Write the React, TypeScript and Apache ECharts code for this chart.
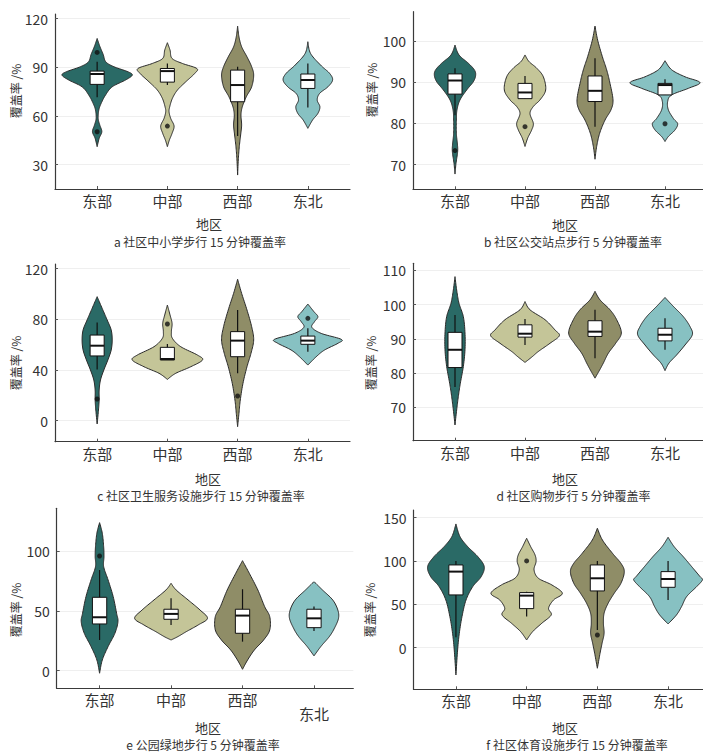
import React, { useEffect, useRef } from 'react';
import * as echarts from 'echarts';

const CATEGORIES = ['东部', '中部', '西部', '东北'];
const CAPTIONS = [
  'a 社区中小学步行 15 分钟覆盖率',
  'b 社区公交站点步行 5 分钟覆盖率',
  'c 社区卫生服务设施步行 15 分钟覆盖率',
  'd 社区购物步行 5 分钟覆盖率',
  'e 公园绿地步行 5 分钟覆盖率',
  'f 社区体育设施步行 15 分钟覆盖率',
];
const Y_NAME = '覆盖率 /%';
const X_NAME = '地区';
const COLORS = ['#2a6a66', '#c4c598', '#8f8d67', '#87c1c2'];

const TICKS_A = [30, 60, 90, 120];
const TICKS_B = [70, 80, 90, 100];
const TICKS_C = [0, 40, 80, 120];
const TICKS_D = [70, 80, 90, 100, 110];
const TICKS_E = [0, 50, 100];
const TICKS_F = [0, 50, 100, 150];

// violin profiles: [value, relative density] from top to bottom
const VIOLINS_A = [
  [[107.8, 0], [103, 8], [98, 18], [93.4, 26], [90.4, 50], [87.3, 92], [85.2, 105], [82.2, 85], [78.0, 45], [72.9, 25], [67.8, 12], [63.7, 5], [58.5, 3], [54.4, 8], [50.3, 14], [46.2, 6], [41.1, 0]],
  [[105.2, 0], [100.6, 8], [95.5, 14], [92.4, 45], [89.3, 88], [86.3, 82], [81.1, 55], [76, 30], [70.9, 15], [65.7, 7], [62.6, 5], [58.5, 10], [53.8, 20], [49.3, 14], [45.2, 6], [41.1, 0]],
  [[115.4, 0], [108.9, 4], [102.7, 12], [96.5, 28], [90.4, 42], [85.2, 48], [78.0, 42], [71.9, 26], [65.7, 14], [60.6, 10], [54.4, 12], [48.3, 9], [41.1, 5], [32.9, 2], [23.6, 0]],
  [[105.8, 0], [98.6, 8], [91.4, 38], [86.3, 65], [82.2, 74], [78.0, 60], [73.9, 35], [69.8, 28], [65.7, 36], [61.6, 30], [57.5, 14], [52.4, 0]],
];
const VIOLINS_B = [
  [[99.0, 0], [96.6, 12], [94.6, 40], [93.0, 58], [91.7, 62], [90.1, 55], [88.1, 35], [85.7, 15], [83.3, 6], [80.8, 4], [77.6, 4], [75.2, 7], [73.2, 8], [70.3, 3], [67.7, 0]],
  [[96.6, 0], [95.0, 12], [93.4, 35], [91.3, 55], [88.1, 62], [85.7, 45], [84.1, 25], [82.4, 15], [80.0, 25], [78.4, 20], [76.4, 8], [74.4, 0]],
  [[103.6, 0], [100.2, 8], [96.2, 22], [93.0, 35], [89.7, 45], [85.7, 54], [83.3, 48], [80.8, 30], [77.6, 14], [74.4, 5], [71.3, 0]],
  [[95.2, 0], [93.0, 20], [91.3, 60], [89.9, 105], [88.5, 70], [86.9, 20], [85.3, 8], [83.3, 10], [81.2, 25], [79.9, 38], [78.4, 30], [76.8, 10], [75.6, 0]],
];
const VIOLINS_C = [
  [[97.9, 0], [88.7, 15], [79.5, 30], [71.6, 42], [63.7, 45], [55.8, 42], [47.9, 32], [40, 20], [32.1, 10], [24.2, 6], [16.3, 6], [8.4, 4], [-2.6, 0]],
  [[91.3, 0], [83.4, 8], [76.8, 14], [70.3, 12], [65.0, 15], [58.4, 40], [51.8, 90], [47.9, 105], [42.6, 70], [37.4, 25], [32.6, 0]],
  [[111.6, 0], [100.5, 12], [87.4, 28], [74.2, 42], [63.7, 48], [53.2, 40], [42.6, 28], [29.5, 16], [16.3, 8], [5.8, 4], [-4.7, 0]],
  [[92.1, 0], [86.1, 18], [82.1, 30], [78.2, 20], [73.7, 12], [68.9, 40], [64.2, 100], [61.1, 90], [55.8, 50], [50.5, 25], [43.9, 0]],
];
const VIOLINS_D = [
  [[108.2, 0], [104.3, 5], [100.4, 12], [96.5, 25], [91.7, 30], [86.8, 30], [81.9, 25], [77.0, 16], [73.1, 10], [69.2, 5], [64.8, 0]],
  [[100.9, 0], [98.5, 15], [95.6, 60], [92.6, 90], [90.9, 103], [88.7, 75], [86.3, 40], [84.8, 22], [83.1, 0]],
  [[103.9, 0], [101.4, 15], [98.5, 45], [95.6, 65], [91.7, 79], [88.7, 62], [85.8, 40], [82.9, 25], [80.9, 14], [78.5, 0]],
  [[102.1, 0], [99.5, 25], [96.5, 55], [93.6, 75], [91.2, 82], [88.2, 60], [85.3, 35], [82.9, 12], [80.7, 0]],
];
const VIOLINS_E = [
  [[123.7, 0], [114.8, 8], [103.6, 12], [95.3, 13], [86.9, 12], [75.8, 25], [61.8, 40], [47.9, 50], [40.9, 54], [31.2, 45], [20.1, 25], [8.9, 8], [-2.2, 0]],
  [[73.0, 0], [67.4, 15], [59.1, 50], [50.7, 85], [43.7, 107], [38.2, 80], [32.6, 45], [28.4, 20], [25.6, 0]],
  [[91.9, 0], [81.3, 20], [67.4, 45], [53.5, 65], [45.1, 80], [34.0, 80], [25.6, 62], [17.3, 35], [8.9, 15], [1.1, 0]],
  [[74.4, 0], [67.4, 25], [59.1, 55], [50.7, 70], [43.7, 72], [35.4, 60], [28.4, 45], [20.1, 20], [12.3, 0]],
];
const VIOLINS_F = [
  [[142.7, 0], [128.1, 12], [116.5, 35], [105, 65], [93.5, 84], [81.9, 75], [70.4, 50], [55, 30], [35.8, 18], [16.5, 10], [-2.7, 5], [-31.5, 0]],
  [[126.2, 0], [116.5, 12], [106.9, 25], [99.2, 28], [89.6, 22], [80.0, 35], [72.3, 75], [62.7, 106], [55.0, 80], [45.4, 65], [37.7, 73], [28.1, 45], [18.5, 18], [8.8, 0]],
  [[137.7, 0], [124.2, 15], [108.8, 45], [97.3, 70], [87.7, 80], [74.2, 70], [62.7, 50], [51.2, 32], [39.6, 20], [28.1, 18], [16.5, 20], [5.0, 14], [-6.5, 8], [-23.8, 0]],
  [[127.3, 0], [116.5, 18], [105, 45], [93.5, 70], [81.9, 95], [78.1, 102], [70.4, 85], [58.8, 55], [47.3, 40], [37.7, 25], [27.3, 0]],
];

// box stats: [lower whisker, Q1, median, Q3, upper whisker]
const BOXES_A = [[71.5, 79.5, 85.9, 87.7, 93.4], [79.1, 80.9, 87.7, 89.3, 92.4], [47.7, 68.8, 79.1, 88.3, 90.4], [65.3, 77.0, 82.2, 85.9, 92.4]];
const BOXES_B = [[82.0, 87.1, 90.4, 92.0, 93.4], [86.0, 86.0, 87.5, 89.7, 91.5], [79.2, 85.3, 87.9, 91.5, 95.8], [86.9, 86.9, 89.3, 89.7, 90.7]];
const BOXES_C = [[40.5, 51.1, 59.2, 67.6, 77.6], [47.9, 47.9, 48.7, 57.9, 60.5], [37.4, 50.5, 63.2, 70.3, 87.4], [54.5, 60.3, 63.2, 66.8, 72.9]];
const BOXES_D = [[75.9, 81.6, 86.8, 91.9, 97.0], [88.2, 90.5, 91.5, 94.1, 95.8], [84.3, 90.7, 92.1, 95.3, 98.5], [86.8, 89.4, 91.2, 93.1, 96.0]];
const BOXES_E = [[25.6, 39.0, 44.6, 61.3, 84.1], [38.2, 42.9, 47.4, 51.3, 60.4], [24.2, 31.2, 46.0, 51.3, 68.0], [33.1, 35.9, 43.7, 51.3, 53.5]];
const BOXES_F = [[11.9, 60.8, 87.7, 95.4, 100], [35.8, 45.0, 60.0, 63.5, 64.6], [20.4, 65.4, 80.0, 95.4, 100], [55.0, 69.6, 79.2, 87.7, 100]];

// outliers: [category index, value]
const OUTLIERS_A = [[0, 99.2], [0, 50.3], [1, 53.8]];
const OUTLIERS_B = [[0, 73.4], [1, 79.2], [3, 79.9]];
const OUTLIERS_C = [[0, 17.1], [1, 76.3], [2, 19.5], [3, 80.8]];
const OUTLIERS_D: number[][] = [];
const OUTLIERS_E = [[0, 95.8]];
const OUTLIERS_F = [[1, 100], [2, 14.6]];

const Y_RANGES = [[15.0, 122.9], [64.0, 107.1], [-16.6, 123.7], [60.2, 112.1], [-14.8, 135.7], [-48.1, 158.8]];

const LAYOUT = [
  { left: 55, top: 14, width: 295, height: 175, xMax: 3.6, yName: [15, 91], xName: [209, 223], cap: [200, 241] },
  { left: 413, top: 11.7, width: 294, height: 177.6, xMax: 3.6, yName: [371, 90], xName: [565, 224], cap: [573, 241] },
  { left: 55, top: 264, width: 295, height: 177.7, xMax: 3.6, yName: [15, 363], xName: [208, 478], cap: [201, 495] },
  { left: 413, top: 263.3, width: 294, height: 177.4, xMax: 3.6, yName: [370, 363], xName: [565, 478], cap: [573.5, 495] },
  { left: 56.7, top: 508.3, width: 296.6, height: 180, xMax: 3.55, yName: [15, 610], xName: [208, 727], cap: [203, 744.5] },
  { left: 413.5, top: 510, width: 297, height: 179.3, xMax: 3.6, yName: [369, 610], xName: [565, 727], cap: [577, 744.5] },
];

const FONT = '"Noto Sans CJK SC", "Noto Sans", sans-serif';
const DENS_SCALE = 1 / 210;
const BOX_HW = 0.1;

function sampleProfile(p: number[][]): number[][] {
  const out: number[][] = [];
  const n = p.length;
  for (let i = 0; i < n - 1; i++) {
    const p0 = p[Math.max(i - 1, 0)], p1 = p[i], p2 = p[i + 1], p3 = p[Math.min(i + 2, n - 1)];
    for (let s = 0; s < 10; s++) {
      const t = s / 10, t2 = t * t, t3 = t2 * t;
      const f = (a: number, b: number, c: number, d: number) =>
        0.5 * (2 * b + (-a + c) * t + (2 * a - 5 * b + 4 * c - d) * t2 + (-a + 3 * b - 3 * c + d) * t3);
      out.push([f(p0[0], p1[0], p2[0], p3[0]), Math.max(0, f(p0[1], p1[1], p2[1], p3[1]))]);
    }
  }
  out.push(p[n - 1]);
  return out;
}

const ALL_TICKS = [TICKS_A, TICKS_B, TICKS_C, TICKS_D, TICKS_E, TICKS_F];
const ALL_VIOLINS = [VIOLINS_A, VIOLINS_B, VIOLINS_C, VIOLINS_D, VIOLINS_E, VIOLINS_F];
const ALL_BOXES = [BOXES_A, BOXES_B, BOXES_C, BOXES_D, BOXES_E, BOXES_F];
const ALL_OUTLIERS = [OUTLIERS_A, OUTLIERS_B, OUTLIERS_C, OUTLIERS_D, OUTLIERS_E, OUTLIERS_F];

function buildOption() {
  const grid: any[] = [];
  const xAxis: any[] = [];
  const yAxis: any[] = [];
  const series: any[] = [];
  const graphic: any[] = [];
  LAYOUT.forEach((L, k) => {
    grid.push({ left: L.left, top: L.top, width: L.width, height: L.height, containLabel: false, outerBoundsMode: 'none' });
    const isE = k === 4;
    xAxis.push({
      type: 'value', gridIndex: k, min: -0.6, max: L.xMax, z: 5,
      axisLine: { show: true, onZero: false, lineStyle: { color: '#3a3a3a', width: 1.2 } },
      axisTick: { show: true, inside: true, length: 3, customValues: [0, 1, 2, 3], lineStyle: { color: '#555' } },
      axisLabel: {
        customValues: [0, 1, 2, 3], margin: 4, fontSize: 15, color: '#333', fontFamily: FONT,
        formatter: (v: number) => {
          const i = Math.round(v);
          return isE && i === 3 ? '{low|' + CATEGORIES[i] + '}' : CATEGORIES[i];
        },
        rich: { low: { padding: [14, 0, 0, 0], fontSize: 15, color: '#333', fontFamily: FONT } },
      },
      splitLine: { show: false },
    });
    yAxis.push({
      type: 'value', gridIndex: k, min: Y_RANGES[k][0], max: Y_RANGES[k][1], z: 5,
      axisLine: { show: true, onZero: false, lineStyle: { color: '#3a3a3a', width: 1.2 } },
      axisTick: { show: true, inside: true, length: 3, customValues: ALL_TICKS[k], lineStyle: { color: '#555' } },
      axisLabel: { customValues: ALL_TICKS[k], margin: 7, fontSize: 14, color: '#333', fontFamily: FONT },
      splitLine: { show: false },
    });
    series.push({
      type: 'scatter', xAxisIndex: k, yAxisIndex: k, data: [], silent: true, z: 0, zlevel: 0,
      markLine: {
        silent: true, symbol: 'none', label: { show: false }, z: 0,
        lineStyle: { color: '#efefef', width: 1, type: 'solid' },
        data: ALL_TICKS[k].map((t) => ({ yAxis: t })),
      },
    });
    const profiles = ALL_VIOLINS[k];
    series.push({
      type: 'custom', xAxisIndex: k, yAxisIndex: k, silent: true, z: 2,
      data: profiles.map((p, i) => [i, p[p.length - 1][0], p[0][0]]),
      encode: { x: 0, y: [1, 2] },
      renderItem: (params: any, api: any) => {
        const i = params.dataIndex;
        const cx = api.value(0);
        const prof = sampleProfile(profiles[i]);
        const right = prof.map(([v, d]) => api.coord([cx + d * DENS_SCALE, v]));
        const left = prof.slice(1, -1).reverse().map(([v, d]) => api.coord([cx - d * DENS_SCALE, v]));
        return {
          type: 'polygon',
          shape: { points: right.concat(left) },
          style: { fill: COLORS[i], stroke: '#2a2a2a', lineWidth: 1 },
        };
      },
    });
    series.push({
      type: 'custom', xAxisIndex: k, yAxisIndex: k, silent: true, z: 3,
      data: ALL_BOXES[k].map((b, i) => [i, ...b]),
      encode: { x: 0, y: [1, 2, 3, 4, 5] },
      renderItem: (params: any, api: any) => {
        const x = api.value(0);
        const lo = api.value(1), q1 = api.value(2), med = api.value(3), q3 = api.value(4), hi = api.value(5);
        const top = api.coord([x, hi]);
        const bot = api.coord([x, lo]);
        const a = api.coord([x - BOX_HW, q3]);
        const b = api.coord([x + BOX_HW, q1]);
        const m1 = api.coord([x - BOX_HW, med]);
        const m2 = api.coord([x + BOX_HW, med]);
        return {
          type: 'group',
          children: [
            { type: 'line', shape: { x1: top[0], y1: top[1], x2: bot[0], y2: bot[1] }, style: { stroke: '#111', lineWidth: 1.2 } },
            { type: 'rect', shape: { x: a[0], y: a[1], width: b[0] - a[0], height: b[1] - a[1] }, style: { fill: '#fff', stroke: '#111', lineWidth: 1 } },
            { type: 'line', shape: { x1: m1[0], y1: m1[1], x2: m2[0], y2: m2[1] }, style: { stroke: '#111', lineWidth: 2 } },
          ],
        };
      },
    });
    series.push({
      type: 'scatter', xAxisIndex: k, yAxisIndex: k, silent: true, z: 4,
      data: ALL_OUTLIERS[k], symbolSize: 5, itemStyle: { color: '#111' },
    });
    graphic.push({
      type: 'text', x: L.yName[0], y: L.yName[1], rotation: Math.PI / 2,
      style: { text: Y_NAME, align: 'center', verticalAlign: 'middle', fontSize: 12, fontFamily: FONT, fill: '#333' },
    });
    graphic.push({
      type: 'text', x: L.xName[0], y: L.xName[1],
      style: { text: X_NAME, align: 'center', verticalAlign: 'middle', fontSize: 13, fontFamily: FONT, fill: '#333' },
    });
    graphic.push({
      type: 'text', x: L.cap[0], y: L.cap[1],
      style: { text: CAPTIONS[k], align: 'center', verticalAlign: 'middle', fontSize: 12, fontFamily: FONT, fill: '#333' },
    });
  });
  return { animation: false, backgroundColor: '#fff', grid, xAxis, yAxis, series, graphic };
}

export default function App() {
  const ref = useRef<HTMLDivElement>(null);
  useEffect(() => {
    if (!ref.current) return;
    const chart = echarts.init(ref.current, undefined, { renderer: 'svg' });
    chart.setOption(buildOption() as any);
    return () => chart.dispose();
  }, []);
  return <div ref={ref} style={{ position: 'fixed', left: 0, top: 0, width: 703, height: 753 }} />;
}
